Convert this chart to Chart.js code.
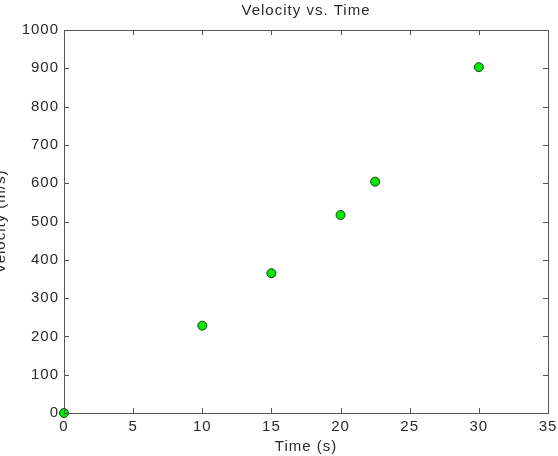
<!DOCTYPE html>
<html>
<head>
<meta charset="utf-8">
<script src="https://cdn.jsdelivr.net/npm/chart.js@4"></script>
<style>
  body { margin: 0; background: #fff; overflow: hidden; }
  #wrap { position: absolute; left: -8px; top: 0; }
</style>
</head>
<body>
<div id="wrap"><canvas id="myChart" width="566" height="456"></canvas></div>
<script>
const times = [0, 10, 15, 20, 22.5, 30];
const velocities = [0, 228, 365, 517, 604, 903];
const chart_title = "Velocity vs. Time";
const x_title = "Time (s)";
const y_title = "Velocity (m/s)";

const axis_color = "#555";
const text_color = "#2a2a2a";
const point_color = "rgb(0, 235, 0)";

// old matlab text is a bit spaced out
const spacing = {
  id: "spacing",
  beforeLayout(chart) { chart.ctx.letterSpacing = "1px"; },
  beforeDraw(chart) { chart.ctx.letterSpacing = "1px"; },
};

// matlab style box with ticks pointing inwards
const inner_ticks = {
  id: "inner_ticks",
  afterDraw(chart) {
    const ctx = chart.ctx;
    const a = chart.chartArea;
    const xs = chart.scales.x;
    const ys = chart.scales.y;
    const len = 5;
    ctx.save();
    ctx.strokeStyle = axis_color;
    ctx.lineWidth = 1;
    ctx.strokeRect(Math.round(a.left) + 0.5, Math.round(a.top) + 0.5,
      Math.round(a.right - a.left), Math.round(a.bottom - a.top));
    ctx.beginPath();
    xs.ticks.forEach((t) => {
      const px = Math.round(xs.getPixelForValue(t.value)) + 0.5;
      ctx.moveTo(px, a.bottom);
      ctx.lineTo(px, a.bottom - len);
      ctx.moveTo(px, a.top);
      ctx.lineTo(px, a.top + len);
    });
    ys.ticks.forEach((t) => {
      const py = Math.round(ys.getPixelForValue(t.value)) + 0.5;
      ctx.moveTo(a.left, py);
      ctx.lineTo(a.left + len, py);
      ctx.moveTo(a.right, py);
      ctx.lineTo(a.right - len, py);
    });
    ctx.stroke();
    ctx.restore();
  },
};

Chart.defaults.font.family = "'Liberation Sans', Arial, sans-serif";
Chart.defaults.font.size = 15;
Chart.defaults.color = text_color;

const ctx = document.getElementById("myChart").getContext("2d");
const myChart = new Chart(ctx, {
  type: "scatter",
  data: {
    datasets: [
      {
        data: times.map((t, i) => ({ x: t, y: velocities[i] })),
        backgroundColor: point_color,
        borderColor: "#1f3d1f",
        borderWidth: 1,
        pointRadius: 4.5,
        pointHoverRadius: 4.5,
        clip: false,
      },
    ],
  },
  options: {
    responsive: false,
    animation: false,
    layout: { padding: { left: 0, right: 10, top: 0, bottom: 0 } },
    plugins: {
      legend: { display: false },
      tooltip: { enabled: false },
    },
    scales: {
      x: {
        type: "linear",
        min: 0,
        max: 35,
        ticks: { stepSize: 5, padding: 5, color: text_color, maxRotation: 0, callback: (v) => String(v) },
        grid: { display: false, drawTicks: false },
        border: { display: false },
        title: { display: true, text: x_title, color: text_color, padding: { top: 0, bottom: 0 } },
        afterFit: (scale) => {
          scale.height = 43;
          scale.paddingLeft = 0;
          scale.paddingRight = 0;
        },
      },
      // top axis only carries the title so it is centred over the plot
      x2: {
        type: "linear",
        position: "top",
        min: 0,
        max: 35,
        ticks: { display: false },
        grid: { display: false, drawTicks: false },
        border: { display: false },
        title: { display: true, text: chart_title, color: text_color, padding: { top: 2, bottom: 0 } },
        afterFit: (scale) => {
          scale.height = 30;
          scale.paddingLeft = 0;
          scale.paddingRight = 0;
        },
      },
      y: {
        type: "linear",
        min: 0,
        max: 1000,
        ticks: { stepSize: 100, padding: 5, color: text_color, callback: (v) => String(v) },
        grid: { display: false, drawTicks: false },
        border: { display: false },
        title: { display: true, text: y_title, color: text_color, padding: { top: 0, bottom: 0 } },
        afterFit: (scale) => {
          scale.width = 72;
          scale.paddingTop = 0;
          scale.paddingBottom = 0;
        },
      },
    },
  },
  plugins: [spacing, inner_ticks],
});
</script>
</body>
</html>
